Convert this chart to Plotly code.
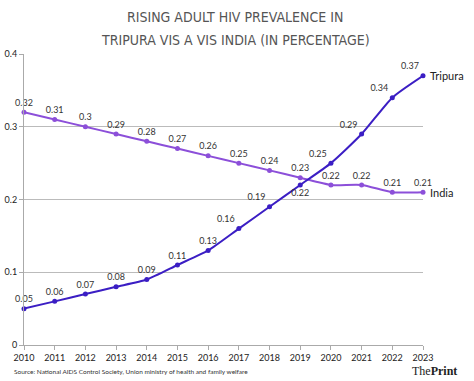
import plotly.graph_objects as go

years = list(range(2010, 2024))
tripura = [0.05, 0.06, 0.07, 0.08, 0.09, 0.11, 0.13, 0.16, 0.19, 0.22, 0.25, 0.29, 0.34, 0.37]
india = [0.32, 0.31, 0.30, 0.29, 0.28, 0.27, 0.26, 0.25, 0.24, 0.23, 0.22, 0.22, 0.21, 0.21]
tripura_labels = ["0.05", "0.06", "0.07", "0.08", "0.09", "0.11", "0.13", "0.16", "0.19", "0.22", "0.25", "0.29", "0.34", "0.37"]
india_labels = ["0.32", "0.31", "0.3", "0.29", "0.28", "0.27", "0.26", "0.25", "0.24", "0.23", "0.22", "0.22", "0.21", "0.21"]
y_ticks = [0, 0.1, 0.2, 0.3, 0.4]
y_tick_text = ["0", "0.1", "0.2", "0.3", "0.4"]

trip_pos = ["top center"] * 7 + ["top left", "top left", "bottom center",
                                 "top left", "top left", "top left", "top left"]
india_pos = ["top center"] * 14

TRIP_C = "#3b1ec4"
IND_C = "#8c4fd9"
FONT = "Lato, Noto Sans, sans-serif"
TITLE_F = "DejaVu Sans Condensed"

fig = go.Figure()
fig.add_trace(go.Scatter(
    x=years, y=india, mode="lines+markers+text", line=dict(color=IND_C, width=2, shape="spline", smoothing=0.6),
    marker=dict(size=5, color=IND_C), text=india_labels, textposition=india_pos,
    textfont=dict(size=9, color="#333", family=FONT), cliponaxis=False, showlegend=False))
fig.add_trace(go.Scatter(
    x=years, y=tripura, mode="lines+markers+text", line=dict(color=TRIP_C, width=2, shape="spline", smoothing=0.6),
    marker=dict(size=5, color=TRIP_C), text=tripura_labels, textposition=trip_pos,
    textfont=dict(size=9, color="#333", family=FONT), cliponaxis=False, showlegend=False))

fig.update_layout(
    width=474, height=381, margin=dict(l=24, r=51, t=54, b=36),
    paper_bgcolor="white", plot_bgcolor="white",
    font=dict(family=FONT, color="#222"),
    xaxis=dict(range=[2010, 2023], tickvals=years, ticktext=[str(y) for y in years],
               showgrid=False, showline=True, linecolor="#aaa", linewidth=1, automargin=False,
               ticks="outside", ticklen=4, tickcolor="#aaa", tickfont=dict(size=9, color="#222"),
               zeroline=False),
    yaxis=dict(range=[0, 0.4], tickvals=y_ticks, ticktext=y_tick_text, automargin=False,
               showgrid=True, gridcolor="#bbb", gridwidth=1,
               showline=True, linecolor="#aaa", linewidth=1,
               ticks="outside", ticklen=4, tickcolor="#aaa", tickfont=dict(size=9, color="#222"),
               zeroline=False),
)

TITLE_X = (235 - 24) / 399
fig.update_layout(annotations=[
    dict(x=2023, y=tripura[-1], xref="x", yref="y", text="Tripura", showarrow=False,
         xanchor="left", xshift=5, font=dict(size=11, color="#222", family=FONT)),
    dict(x=2023, y=india[-1], xref="x", yref="y", text="India", showarrow=False,
         xanchor="left", xshift=5, font=dict(size=11, color="#222", family=FONT)),
    dict(x=TITLE_X, xref="paper", y=1, yref="paper", yshift=37, text="RISING ADULT HIV PREVALENCE IN",
         showarrow=False, font=dict(size=14, color="#555", family=TITLE_F), yanchor="middle"),
    dict(x=TITLE_X, xref="paper", y=1, yref="paper", yshift=14, text="TRIPURA VIS A VIS INDIA (IN PERCENTAGE)",
         showarrow=False, font=dict(size=14, color="#555", family=TITLE_F), yanchor="middle"),
    dict(x=-12 / 399, xref="paper", y=0, yref="paper", yshift=-26, showarrow=False,
         text="Source: National AIDS Control Society, Union ministry of health and family welfare",
         xanchor="left", yanchor="middle", font=dict(size=6.5, color="#333", family=FONT)),
    dict(x=(459 - 24) / 399, xref="paper", y=0, yref="paper", yshift=-26, showarrow=False,
         text="The<b>Print</b>", xanchor="right", yanchor="middle",
         font=dict(size=12, color="#222", family="Liberation Serif, DejaVu Serif, serif")),
])

fig.write_html("out.html", config={"displayModeBar": False},
               post_script="document.body.style.margin='0';")
